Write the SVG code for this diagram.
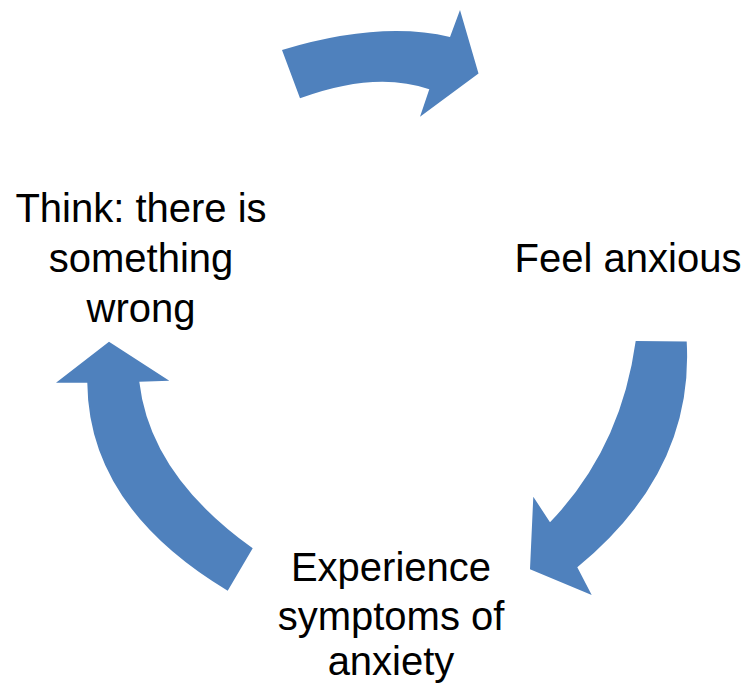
<svg xmlns="http://www.w3.org/2000/svg" width="745" height="684" viewBox="0 0 745 684">
<style>
.arrow{fill:#4F81BD;stroke:none}
.lbl{font-family:"Liberation Sans",Arial,sans-serif;font-size:40px;fill:#000;text-anchor:middle}
</style>
<rect width="745" height="684" fill="#fff"/>
<g id="connectors">
<path id="arrow-top" class="arrow" d="M282,50 Q380,20.5 450,37 L460,10 L478.5,73.5 L420,116.7 L429.3,89.3 Q375.5,70.5 300,98.3 Z"/>
<path id="arrow-right" class="arrow" d="M635.7,341 L686.7,341.5 Q694,471.5 577.3,567.3 L591.7,595 L530,569.3 L533.3,496.7 L550,522.3 Q621,448.5 635.7,341 Z"/>
<path id="arrow-left" class="arrow" d="M252.7,548.3 L227.7,590.7 Q88.5,507 87.3,382.7 L56,382.7 L109,341.7 L169.3,380.7 L139.3,381.7 Q150,475 252.7,548.3 Z"/>
</g>
<g id="node-think">
<text class="lbl" x="141" y="221.7">Think: there is</text>
<text class="lbl" x="141" y="271.7">something</text>
<text class="lbl" x="141" y="321.5">wrong</text>
</g>
<g id="node-feel">
<text class="lbl" x="628" y="271.7">Feel anxious</text>
</g>
<g id="node-experience">
<text class="lbl" x="391" y="580.5">Experience</text>
<text class="lbl" x="391" y="629.5">symptoms of</text>
<text class="lbl" x="391" y="675">anxiety</text>
</g>
</svg>
